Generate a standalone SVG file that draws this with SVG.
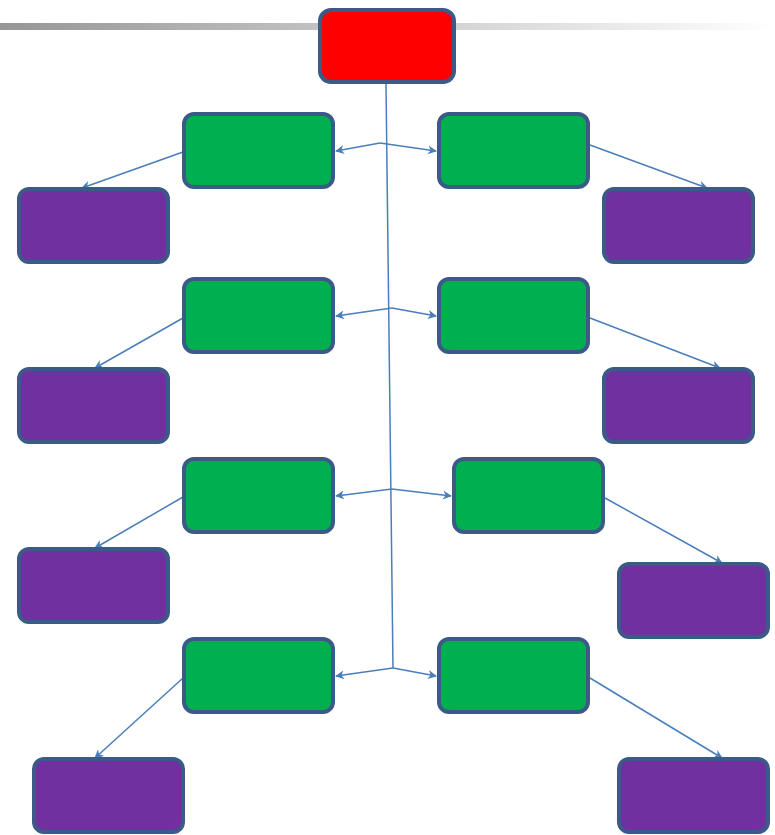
<svg xmlns="http://www.w3.org/2000/svg" width="775" height="835" viewBox="0 0 775 835">
<defs>
<linearGradient id="bar" x1="0" y1="0" x2="1" y2="0">
<stop offset="0" stop-color="#969696"/>
<stop offset="1" stop-color="#ffffff"/>
</linearGradient>
<marker id="ah" viewBox="0 0 10 10" refX="9" refY="5" markerWidth="9" markerHeight="9" markerUnits="userSpaceOnUse" orient="auto">
<path d="M0,0 L10,5 L0,10 L3,5 Z" fill="#4A7EBB"/>
</marker>
<style>
.box{stroke:#3B5A87;stroke-width:4}
.red{fill:#FF0000}
.green{fill:#00B050}
.purple{fill:#7030A0}
.c{fill:none;stroke:#4A7EBB;stroke-width:1.5}
.a{marker-end:url(#ah)}
</style>
</defs>
<rect x="0" y="23" width="775" height="7" fill="url(#bar)"/>
<g id="connectors">
<path class="c" d="M386,84 L393,668"/>
<path class="c a" d="M380,143 L336,151"/>
<path class="c a" d="M380,143 L436,151"/>
<path class="c a" d="M392,308 L336,316"/>
<path class="c a" d="M392,308 L436,316"/>
<path class="c a" d="M392,489 L336,496"/>
<path class="c a" d="M392,489 L451,496"/>
<path class="c a" d="M393,668 L336,676"/>
<path class="c a" d="M393,668 L436,676"/>
<path class="c a" d="M183,152 L82,188"/>
<path class="c a" d="M590,145 L707,188"/>
<path class="c a" d="M183,318 L95,368"/>
<path class="c a" d="M590,318 L720,368"/>
<path class="c a" d="M183,497 L95,548"/>
<path class="c a" d="M605,498 L722,563"/>
<path class="c a" d="M183,678 L95,758"/>
<path class="c a" d="M590,678 L722,758"/>
</g>
<g id="root"><rect class="box red" x="320" y="10" width="134" height="72" rx="11"/></g>
<g id="g1l"><rect class="box green" x="184" y="114" width="149" height="73" rx="10"/></g>
<g id="g1r"><rect class="box green" x="439" y="114" width="149" height="73" rx="10"/></g>
<g id="g2l"><rect class="box green" x="184" y="279" width="149" height="73" rx="10"/></g>
<g id="g2r"><rect class="box green" x="439" y="279" width="149" height="73" rx="10"/></g>
<g id="g3l"><rect class="box green" x="184" y="459" width="149" height="73" rx="10"/></g>
<g id="g3r"><rect class="box green" x="454" y="459" width="149" height="73" rx="10"/></g>
<g id="g4l"><rect class="box green" x="184" y="639" width="149" height="73" rx="10"/></g>
<g id="g4r"><rect class="box green" x="439" y="639" width="149" height="73" rx="10"/></g>
<g id="p1l"><rect class="box purple" x="19" y="189" width="149" height="73" rx="10"/></g>
<g id="p1r"><rect class="box purple" x="604" y="189" width="149" height="73" rx="10"/></g>
<g id="p2l"><rect class="box purple" x="19" y="369" width="149" height="73" rx="10"/></g>
<g id="p2r"><rect class="box purple" x="604" y="369" width="149" height="73" rx="10"/></g>
<g id="p3l"><rect class="box purple" x="19" y="549" width="149" height="73" rx="10"/></g>
<g id="p3r"><rect class="box purple" x="619" y="564" width="149" height="73" rx="10"/></g>
<g id="p4l"><rect class="box purple" x="34" y="759" width="149" height="73" rx="10"/></g>
<g id="p4r"><rect class="box purple" x="619" y="759" width="149" height="73" rx="10"/></g>
</svg>
